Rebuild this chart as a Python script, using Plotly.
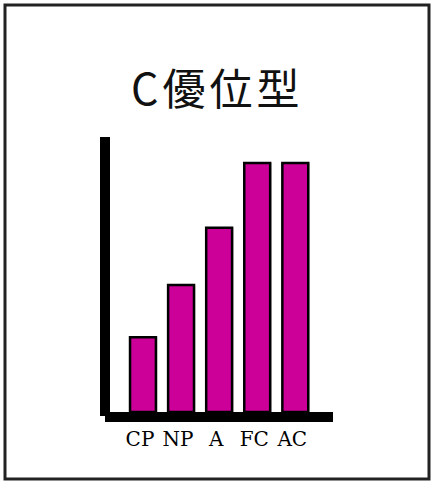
import plotly.graph_objects as go

W, H = 434, 486

categories = ["CP", "NP", "A", "FC", "AC"]
values = [30, 51, 74, 100, 100]
title_text = "C優位型"

BAR = "#CC0099"
SHADOW = "#D4D4D4"


def px_x(p):
    return p / W


def px_y(p):
    return 1 - p / H


fig = go.Figure()

# soft grey shadow behind each bar
fig.add_trace(go.Bar(
    x=categories, y=values,
    width=0.68, offset=-0.30,
    marker=dict(color=SHADOW, line=dict(width=0)),
    hoverinfo="skip", showlegend=False,
))
fig.add_trace(go.Bar(
    x=categories, y=values,
    width=0.68, offset=-0.34,
    marker=dict(color=BAR, line=dict(color="black", width=2.5)),
    showlegend=False,
))

fig.update_layout(
    width=W, height=H,
    margin=dict(l=0, r=0, t=0, b=0),
    paper_bgcolor="white",
    plot_bgcolor="white",
    barmode="overlay",
    xaxis=dict(
        domain=[px_x(110), px_x(333)],
        range=[-0.866, 4.99],
        showgrid=False, zeroline=False, showline=False,
        ticks="", ticklabelstandoff=13, ticklabelshift=-3,
        tickfont=dict(family="DejaVu Serif", size=20, color="black"),
        fixedrange=True,
    ),
    yaxis=dict(
        domain=[px_y(412), px_y(137)],
        range=[0, 110.4],
        showgrid=False, zeroline=False, showline=False,
        showticklabels=False, ticks="",
        fixedrange=True,
    ),
    shapes=[
        # outer frame
        dict(type="rect", xref="paper", yref="paper",
             x0=px_x(5), x1=px_x(429), y0=px_y(479), y1=px_y(5),
             line=dict(color="#222", width=3), fillcolor="rgba(0,0,0,0)"),
        # thick y axis
        dict(type="rect", xref="paper", yref="paper",
             x0=px_x(100), x1=px_x(110), y0=px_y(416), y1=px_y(137),
             line=dict(width=0), fillcolor="black"),
        # thick x axis
        dict(type="rect", xref="paper", yref="paper",
             x0=px_x(105), x1=px_x(333), y0=px_y(422), y1=px_y(412),
             line=dict(width=0), fillcolor="black"),
    ],
    annotations=[
        dict(text="<span style='letter-spacing:4px'>" + title_text + "</span>",
             xref="paper", yref="paper",
             x=px_x(217), y=px_y(86), xanchor="center", yanchor="middle",
             showarrow=False,
             font=dict(family="Noto Sans CJK JP", size=43, color="#111")),
    ],
)

# drop the browser's default body margin so the figure sits at the page corner
fig.write_html("out.html", config={"displayModeBar": False},
               post_script="document.body.style.margin='0';")
